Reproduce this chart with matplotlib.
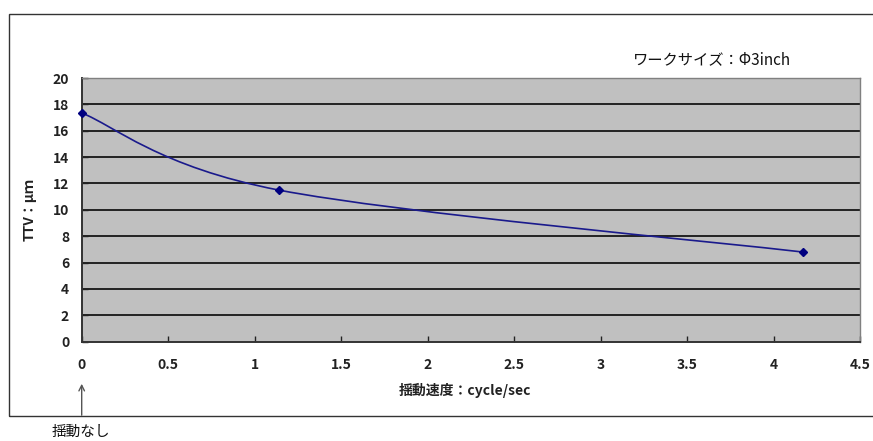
import matplotlib
matplotlib.use("Agg")
import matplotlib.pyplot as plt
from matplotlib.path import Path
from matplotlib.patches import PathPatch, Rectangle, FancyArrowPatch
import numpy as np

plt.rcParams['font.family'] = ['Noto Sans CJK JP', 'DejaVu Sans']

# data
speed = [0.0, 1.14, 4.17]          # cycle/sec
ttv = [17.35, 11.5, 6.8]           # µm
xticks = [0, 0.5, 1, 1.5, 2, 2.5, 3, 3.5, 4, 4.5]
yticks = [0, 2, 4, 6, 8, 10, 12, 14, 16, 18, 20]
title_note = "ワークサイズ：Φ3inch"
xlabel = "揺動速度：cycle/sec"
ylabel = "TTV：μｍ"
note = "揺動なし"

W, H = 873, 441
fig = plt.figure(figsize=(W / 100, H / 100), dpi=100)

# outer chart frame
fig.patches.append(Rectangle((9 / W, 1 - 416 / H), 1.2, (416 - 14) / H,
                             transform=fig.transFigure, fill=False,
                             edgecolor='#333333', linewidth=1.0, clip_on=False))

ax = fig.add_axes([81.7 / W, 1 - 341.7 / H, (860 - 81.7) / W, (341.7 - 78) / H])
ax.set_facecolor('#C0C0C0')
ax.set_xlim(0, 4.5)
ax.set_ylim(0, 20)
ax.set_xticks(xticks)
ax.set_xticklabels([f"{t:g}" for t in xticks], fontweight='bold')
ax.set_yticks(yticks)
ax.set_yticklabels([f"{t:g}" for t in yticks], fontweight='bold')
for y in yticks[1:-1]:
    ax.axhline(y, color='#222222', linewidth=1.4, zorder=1)
for s in ['left', 'bottom']:
    ax.spines[s].set_color('#333333')
    ax.spines[s].set_linewidth(1.4)
for s in ['top', 'right']:
    ax.spines[s].set_color('#808080')
    ax.spines[s].set_linewidth(1.0)
ax.tick_params(axis='x', direction='in', length=4, width=1, pad=12, labelsize=10, colors='#222222')
ax.tick_params(axis='y', direction='in', length=4, width=1, pad=9, labelsize=10, colors='#222222')

# smoothed line (Catmull-Rom style bezier through the data points)
pts = np.column_stack([speed, ttv])
verts = [tuple(pts[0])]
codes = [Path.MOVETO]
n = len(pts)
for i in range(n - 1):
    p0 = pts[max(i - 1, 0)]
    p1 = pts[i]
    p2 = pts[i + 1]
    p3 = pts[min(i + 2, n - 1)]
    c1 = p1 + (p2 - p0) / 6
    c2 = p2 - (p3 - p1) / 6
    verts += [tuple(c1), tuple(c2), tuple(p2)]
    codes += [Path.CURVE4] * 3
ax.add_patch(PathPatch(Path(verts, codes), facecolor='none', edgecolor='#1A1A8C',
                       linewidth=1.2, zorder=3, clip_on=False))
ax.plot(speed, ttv, linestyle='none', marker='D', markersize=4.5,
        color='#000080', zorder=4, clip_on=False)

fig.text(465 / W, 1 - 390 / H, xlabel, ha='center', va='center', fontsize=10,
         fontweight='bold', color='#222222')
fig.text(30 / W, 1 - 210 / H, ylabel, ha='center', va='center', rotation=90,
         fontsize=10, fontweight='bold', color='#222222')
fig.text(633 / W, 1 - 60 / H, title_note, ha='left', va='center', fontsize=11,
         color='#111111')

fig.patches.append(FancyArrowPatch((81.7 / W, 1 - 418 / H), (81.7 / W, 1 - 381 / H),
                                   transform=fig.transFigure, arrowstyle='->',
                                   mutation_scale=10, color='#555555', linewidth=1.0))
fig.text(81 / W, 1 - 432 / H, note, ha='center', va='center', fontsize=10.5,
         color='#111111')

fig.savefig("out.png", dpi=100)
